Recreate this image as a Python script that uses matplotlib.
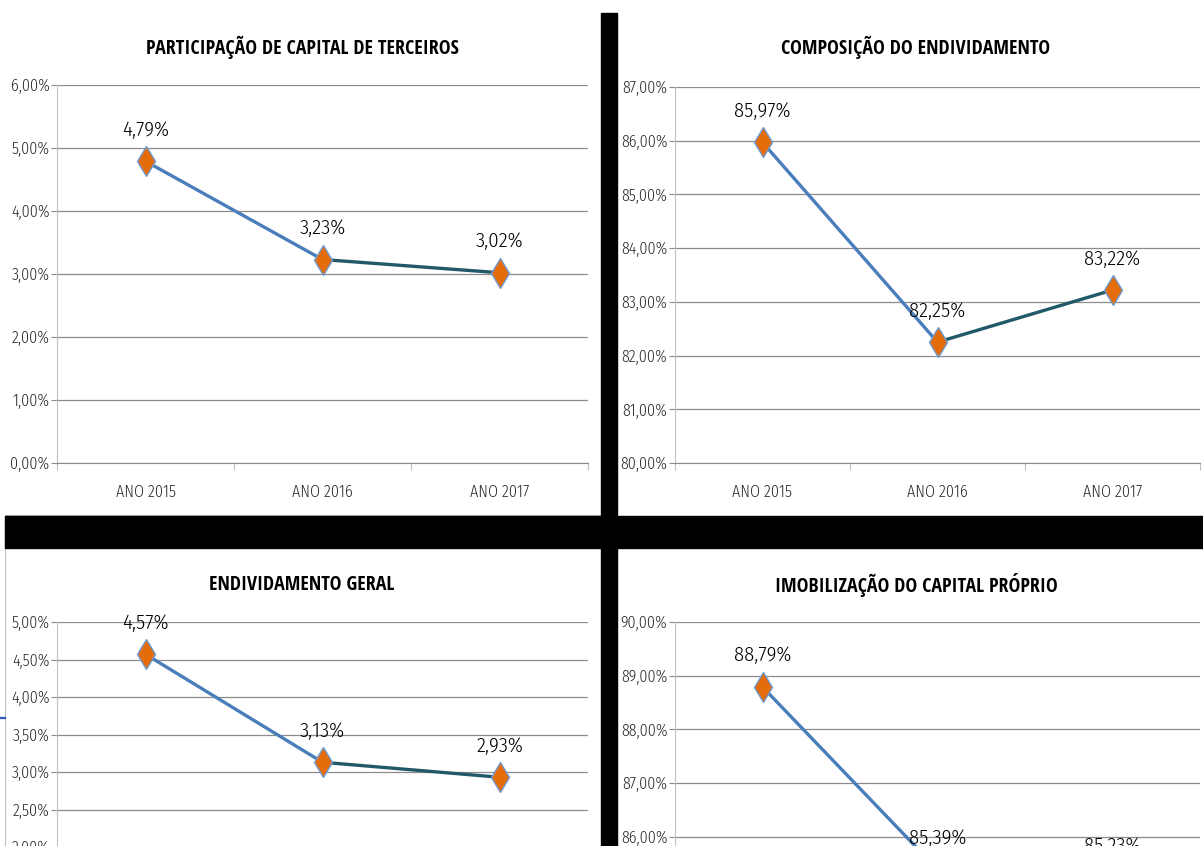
import numpy as np
import matplotlib.pyplot as plt
from matplotlib.ticker import MultipleLocator, FuncFormatter
from matplotlib.patches import Rectangle
from matplotlib.lines import Line2D

plt.rcParams['font.family'] = ['Fira Sans Condensed', 'DejaVu Sans']
plt.rcParams['font.weight'] = 300
fonte_titulo = ['Open Sans Condensed', 'DejaVu Sans']

# dados dos indicadores
anos = ['ANO 2015', 'ANO 2016', 'ANO 2017']
part_capital_terceiros = [4.79, 3.23, 3.02]
composicao_endividamento = [85.97, 82.25, 83.22]
endividamento_geral = [4.57, 3.13, 2.93]
imobilizacao_capital = [88.79, 85.39, 85.23]

W, H = 1203, 846
fig = plt.figure(figsize=(W / 100, H / 100), dpi=100)
fig.patch.set_facecolor('white')

def box(left, top, right, bottom):
    # pixel box -> figure fraction
    return [left / W, 1 - bottom / H, (right - left) / W, (bottom - top) / H]

def pct(v, pos):
    return ('%.2f%%' % v).replace('.', ',')

def grafico(pos, valores, titulo, titulo_xy, ymin, ymax, passo, rotulos_x=True):
    ax = fig.add_axes(box(*pos))
    ax.set_xlim(-0.5, 2.5)
    ax.set_ylim(ymin, ymax)
    ax.yaxis.set_major_locator(MultipleLocator(passo))
    ax.yaxis.set_major_formatter(FuncFormatter(pct))
    ax.grid(axis='y', color='#8c8c8c', lw=0.9)
    ax.set_axisbelow(True)
    for s in ['top', 'right']:
        ax.spines[s].set_visible(False)
    ax.spines['left'].set_color('#bfbfbf')
    ax.spines['bottom'].set_color('#8c8c8c')
    ax.tick_params(axis='y', length=4, width=0.8, color='#8c8c8c',
                   labelsize=11.5, labelcolor='#262626', pad=1.5)
    # ticks nas divisas das categorias, rotulos no centro
    ax.set_xticks([-0.5, 0.5, 1.5, 2.5])
    ax.set_xticklabels([])
    if rotulos_x:
        ax.set_xticks([0, 1, 2], minor=True)
        ax.set_xticklabels(anos, minor=True)
    ax.tick_params(axis='x', which='major', length=5, width=0.8, color='#bfbfbf')
    ax.tick_params(axis='x', which='minor', length=0, pad=15,
                   labelsize=11.5, labelcolor='#262626')

    x = np.arange(len(valores))
    cores = ['#4a7ebb', '#215968']
    for i in range(len(valores) - 1):
        ax.plot(x[i:i + 2], valores[i:i + 2], color=cores[i], lw=2.4,
                solid_capstyle='round', zorder=3)
    ax.plot(x, valores, ls='none', marker='d', ms=15, mfc='#e46c0a',
            mec='#6f9bd1', mew=1.0, zorder=4)
    for xi, v in zip(x, valores):
        ax.annotate(pct(v, None), (xi, v), xytext=(0, 22.5),
                    textcoords='offset points', ha='center', va='center',
                    fontsize=15, color='black')
    fig.text(titulo_xy[0] / W, 1 - titulo_xy[1] / H, titulo, ha='center',
             va='center', fontsize=14.3, fontweight='bold', color='black',
             family=fonte_titulo)
    return ax

grafico((57, 85, 588, 463), part_capital_terceiros,
        'PARTICIPAÇÃO DE CAPITAL DE TERCEIROS', (302, 47), 0, 6, 1)
grafico((675, 87, 1200, 463), composicao_endividamento,
        'COMPOSIÇÃO DO ENDIVIDAMENTO', (916, 47), 80, 87, 1)
grafico((57, 622, 588, 997), endividamento_geral,
        'ENDIVIDAMENTO GERAL', (302, 585), 0, 5, 0.5, rotulos_x=False)
grafico((675, 622, 1200, 944), imobilizacao_capital,
        'IMOBILIZAÇÃO DO CAPITAL PRÓPRIO', (916, 585), 84, 90, 1, rotulos_x=False)

# barras pretas separando os quadros
fig.add_artist(Rectangle((601 / W, 0), 16 / W, 1 - 13 / H,
                         transform=fig.transFigure, color='black', zorder=10))
fig.add_artist(Rectangle((5 / W, 1 - 548 / H), (W - 5) / W, 32 / H,
                         transform=fig.transFigure, color='black', zorder=10))
# bordas finas dos quadros de baixo
fig.add_artist(Line2D([5 / W, 5 / W], [0, 1 - 515 / H], transform=fig.transFigure,
                      color='#bfbfbf', lw=0.8, zorder=9))
fig.add_artist(Line2D([5 / W, 601 / W], [1 - 515 / H, 1 - 515 / H],
                      transform=fig.transFigure, color='#bfbfbf', lw=0.8, zorder=9))
fig.add_artist(Line2D([0, 5 / W], [1 - 718 / H, 1 - 718 / H],
                      transform=fig.transFigure, color='#2f55c0', lw=1.6, zorder=9))

fig.savefig('out.png', dpi=100)
